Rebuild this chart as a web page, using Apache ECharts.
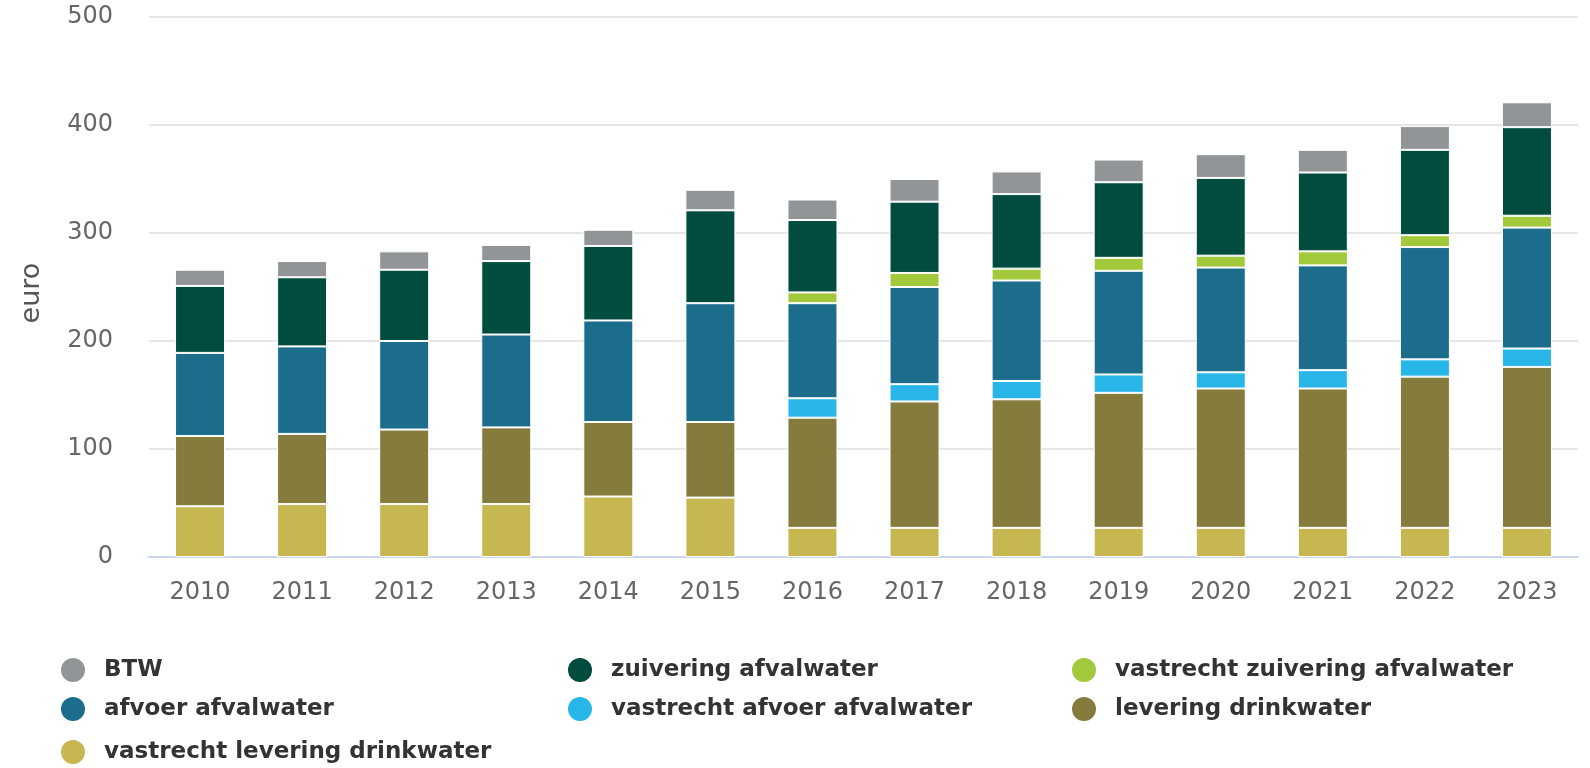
<!DOCTYPE html>
<html>
<head>
<meta charset="utf-8">
<script src="https://cdn.jsdelivr.net/npm/echarts@6/dist/echarts.min.js"></script>
<style>
html,body{margin:0;padding:0;background:#fff;}
#chart{width:1590px;height:768px;}
</style>
</head>
<body>
<div id="chart"></div>
<script>
const years = ['2010','2011','2012','2013','2014','2015','2016','2017','2018','2019','2020','2021','2022','2023'];
const yTicks = [0, 100, 200, 300, 400, 500];

const vastrechtLevering = [47, 49, 49, 49, 56, 55, 27, 27, 27, 27, 27, 27, 27, 27];
const leveringDrinkwater = [65, 65, 69, 71, 69, 70, 102, 117, 119, 125, 129, 129, 140, 149];
const vastrechtAfvoer = [null, null, null, null, null, null, 18, 16, 17, 17, 15, 17, 16, 17];
const afvoerAfvalwater = [77, 81, 82, 86, 94, 110, 88, 90, 93, 96, 97, 97, 104, 112];
const vastrechtZuivering = [null, null, null, null, null, null, 10, 13, 11, 12, 11, 13, 11, 11];
const zuiveringAfvalwater = [62, 64, 66, 68, 69, 86, 67, 66, 69, 70, 72, 73, 79, 82];
const btw = [15, 15, 17, 15, 15, 19, 19, 21, 21, 21, 22, 21, 22, 23];

const seriesDefs = [
  {name: 'vastrecht levering drinkwater', data: vastrechtLevering, color: '#c6b751'},
  {name: 'levering drinkwater', data: leveringDrinkwater, color: '#857b3d'},
  {name: 'vastrecht afvoer afvalwater', data: vastrechtAfvoer, color: '#28b6e8'},
  {name: 'afvoer afvalwater', data: afvoerAfvalwater, color: '#1b6d8b'},
  {name: 'vastrecht zuivering afvalwater', data: vastrechtZuivering, color: '#a2c93c'},
  {name: 'zuivering afvalwater', data: zuiveringAfvalwater, color: '#004c3e'},
  {name: 'BTW', data: btw, color: '#919598'}
];

// legend grid: [name, column, row]
const legendOrder = [
  ['BTW', 0, 0], ['zuivering afvalwater', 1, 0], ['vastrecht zuivering afvalwater', 2, 0],
  ['afvoer afvalwater', 0, 1], ['vastrecht afvoer afvalwater', 1, 1], ['levering drinkwater', 2, 1],
  ['vastrecht levering drinkwater', 0, 2]
];
const colLeft = [59, 566, 1070];
const rowTop = [656, 695, 738];

const FONT = 'DejaVu Sans';
const chart = echarts.init(document.getElementById('chart'));
const legendText = {fontFamily: FONT, fontSize: 23, fontWeight: 'bold', color: '#333333', padding: [0, 0, 0, 13]};
const legends = legendOrder.map(([name, c, r]) => ({
  orient: 'horizontal', left: colLeft[c], top: rowTop[r], padding: 0,
  itemWidth: 26, itemHeight: 26, icon: 'circle',
  textStyle: legendText, data: [name], selectedMode: false
}));

chart.setOption({
  animation: false,
  textStyle: {fontFamily: FONT},
  grid: {left: 149, right: 12, top: 17, bottom: 211},
  legend: legends,
  xAxis: {
    type: 'category', data: years,
    axisLine: {lineStyle: {color: '#ccd6eb', width: 2}},
    axisTick: {show: false},
    axisLabel: {color: '#666666', fontSize: 24, margin: 24, fontFamily: FONT}
  },
  yAxis: {
    type: 'value', min: yTicks[0], max: yTicks[yTicks.length - 1], interval: 100,
    name: 'euro', nameLocation: 'middle', nameGap: 104, nameRotate: 90,
    nameTextStyle: {color: '#555555', fontSize: 27, fontFamily: FONT, padding: [0, 12, 0, 0]},
    axisLine: {show: false}, axisTick: {show: false},
    splitLine: {lineStyle: {color: '#e6e6e6', width: 2}},
    axisLabel: {color: '#666666', fontSize: 24, margin: 36, fontFamily: FONT}
  },
  series: seriesDefs.map(s => ({
    type: 'bar', name: s.name, stack: 'total', data: s.data, barWidth: 50,
    itemStyle: {color: s.color, borderColor: '#ffffff', borderWidth: 1}
  }))
});
</script>
</body>
</html>
